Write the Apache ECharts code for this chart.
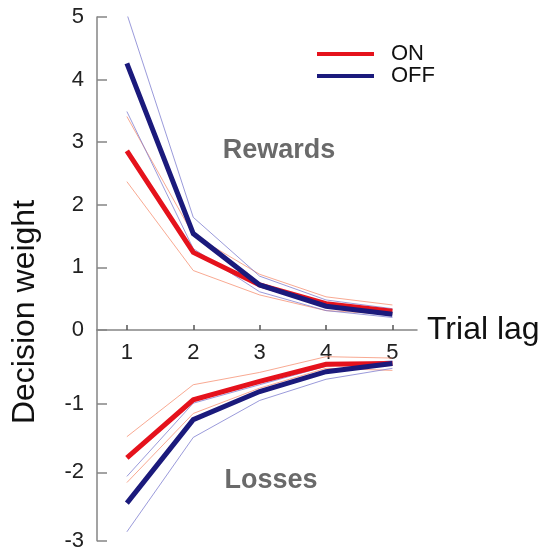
<!DOCTYPE html>
<html>
<head>
<meta charset="utf-8">
<script src="https://cdn.jsdelivr.net/npm/echarts@6/dist/echarts.min.js"></script>
<style>html,body{margin:0;padding:0;background:#fff;}#c{width:548px;height:552px;}</style>
</head>
<body>
<div id="c"></div>
<script>
const lags = [1, 2, 3, 4, 5];
const xTicks = [1, 2, 3, 4, 5];
const rewardTicks = [0, 1, 2, 3, 4, 5];
const lossTicks = [-3, -2, -1];

// Rewards panel
const rewardsOn = [2.86, 1.24, 0.72, 0.42, 0.30];
const rewardsOnUpper = [3.41, 1.52, 0.89, 0.53, 0.40];
const rewardsOnLower = [2.37, 0.95, 0.56, 0.31, 0.25];
const rewardsOff = [4.26, 1.54, 0.72, 0.38, 0.25];
const rewardsOffUpper = [5.05, 1.80, 0.86, 0.48, 0.34];
const rewardsOffLower = [3.49, 1.30, 0.61, 0.31, 0.20];

// Losses panel
const lossesOn = [-1.79, -0.94, -0.67, -0.42, -0.41];
const lossesOnUpper = [-1.48, -0.72, -0.54, -0.31, -0.33];
const lossesOnLower = [-2.15, -1.14, -0.77, -0.48, -0.51];
const lossesOff = [-2.45, -1.23, -0.82, -0.53, -0.41];
const lossesOffUpper = [-2.06, -0.99, -0.72, -0.45, -0.37];
const lossesOffLower = [-2.87, -1.49, -0.95, -0.64, -0.48];

const RED = '#e5121c', BLUE = '#1b1a7c';
const RED_T = 'rgba(245,140,110,0.75)', BLUE_T = 'rgba(120,120,205,0.75)';
const AX = '#858585';
const FONT = 'Liberation Sans, Arial, sans-serif';

function pts(vals) { return lags.map((x, i) => [x, vals[i]]); }
function line(name, vals, color, width, gi) {
  return { name, type: 'line', xAxisIndex: gi, yAxisIndex: gi, data: pts(vals),
    symbol: 'none', silent: true, animation: false,
    lineStyle: { color, width, cap: 'butt', join: 'miter' }, itemStyle: { color }, z: width > 2 ? 3 : 2 };
}

const chart = echarts.init(document.getElementById('c'), null, { renderer: 'canvas' });
chart.setOption({
  animation: false,
  textStyle: { fontFamily: FONT },
  grid: [
    { left: 97, right: 131, top: 17, height: 313 },
    { left: 97, right: 131, top: 330, height: 210.7 }
  ],
  xAxis: [
    { type: 'value', gridIndex: 0, min: 0.55, max: 5.37,
      axisLine: { lineStyle: { color: AX, width: 1.5 } },
      axisTick: { inside: true, length: 5, customValues: xTicks, lineStyle: { color: '#555', width: 1.5 } },
      axisLabel: { customValues: xTicks, margin: 12, fontSize: 22, color: '#222', fontFamily: FONT },
      splitLine: { show: false },
      name: 'Trial lag', nameLocation: 'end', nameGap: 10,
      nameTextStyle: { fontSize: 32, color: '#111', fontFamily: FONT, verticalAlign: 'middle', padding: [6, 0, 0, 0] } },
    { type: 'value', gridIndex: 1, min: 0.55, max: 5.37, show: false }
  ],
  yAxis: [
    { type: 'value', gridIndex: 0, min: 0, max: 5, interval: 1,
      axisLine: { show: true, lineStyle: { color: AX, width: 1.5 } },
      axisTick: { show: true, inside: true, length: 10, lineStyle: { color: AX, width: 1.5 } },
      axisLabel: { margin: 13, fontSize: 22, color: '#222', fontFamily: FONT },
      splitLine: { show: false } },
    { type: 'value', gridIndex: 1, min: -3, max: 0.08,
      axisLine: { show: true, onZero: false, lineStyle: { color: AX, width: 1.5 } },
      axisTick: { show: true, inside: true, length: 10, customValues: lossTicks, lineStyle: { color: AX, width: 1.5 } },
      axisLabel: { customValues: lossTicks, margin: 13, fontSize: 22, color: '#222', fontFamily: FONT },
      splitLine: { show: false } }
  ],
  legend: {
    data: ['ON', 'OFF'], orient: 'vertical', left: 312, top: 38,
    icon: 'rect', itemWidth: 57, itemHeight: 4, itemGap: 0,
    textStyle: { fontSize: 22, lineHeight: 21, color: '#111', fontFamily: FONT, padding: [0, 0, 0, 12] },
    selectedMode: false
  },
  graphic: [
    { type: 'text', x: 25, y: 312, rotation: Math.PI / 2,
      style: { text: 'Decision weight', fontSize: 32, fill: '#111', fontFamily: FONT, textAlign: 'center', textVerticalAlign: 'middle' } },
    { type: 'text', x: 279, y: 151,
      style: { text: 'Rewards', fontSize: 27, fontWeight: 'bold', fill: '#6a6a6a', fontFamily: FONT, textAlign: 'center', textVerticalAlign: 'middle' } },
    { type: 'text', x: 271, y: 481,
      style: { text: 'Losses', fontSize: 27, fontWeight: 'bold', fill: '#6a6a6a', fontFamily: FONT, textAlign: 'center', textVerticalAlign: 'middle' } }
  ],
  series: [
    line('ON upper', rewardsOnUpper, RED_T, 1, 0),
    line('ON lower', rewardsOnLower, RED_T, 1, 0),
    line('OFF upper', rewardsOffUpper, BLUE_T, 1, 0),
    line('OFF lower', rewardsOffLower, BLUE_T, 1, 0),
    line('ON', rewardsOn, RED, 5, 0),
    line('OFF', rewardsOff, BLUE, 5, 0),
    line('ON upper ', lossesOnUpper, RED_T, 1, 1),
    line('ON lower ', lossesOnLower, RED_T, 1, 1),
    line('OFF upper ', lossesOffUpper, BLUE_T, 1, 1),
    line('OFF lower ', lossesOffLower, BLUE_T, 1, 1),
    line('ON', lossesOn, RED, 5, 1),
    line('OFF', lossesOff, BLUE, 5, 1)
  ]
});
</script>
</body>
</html>
